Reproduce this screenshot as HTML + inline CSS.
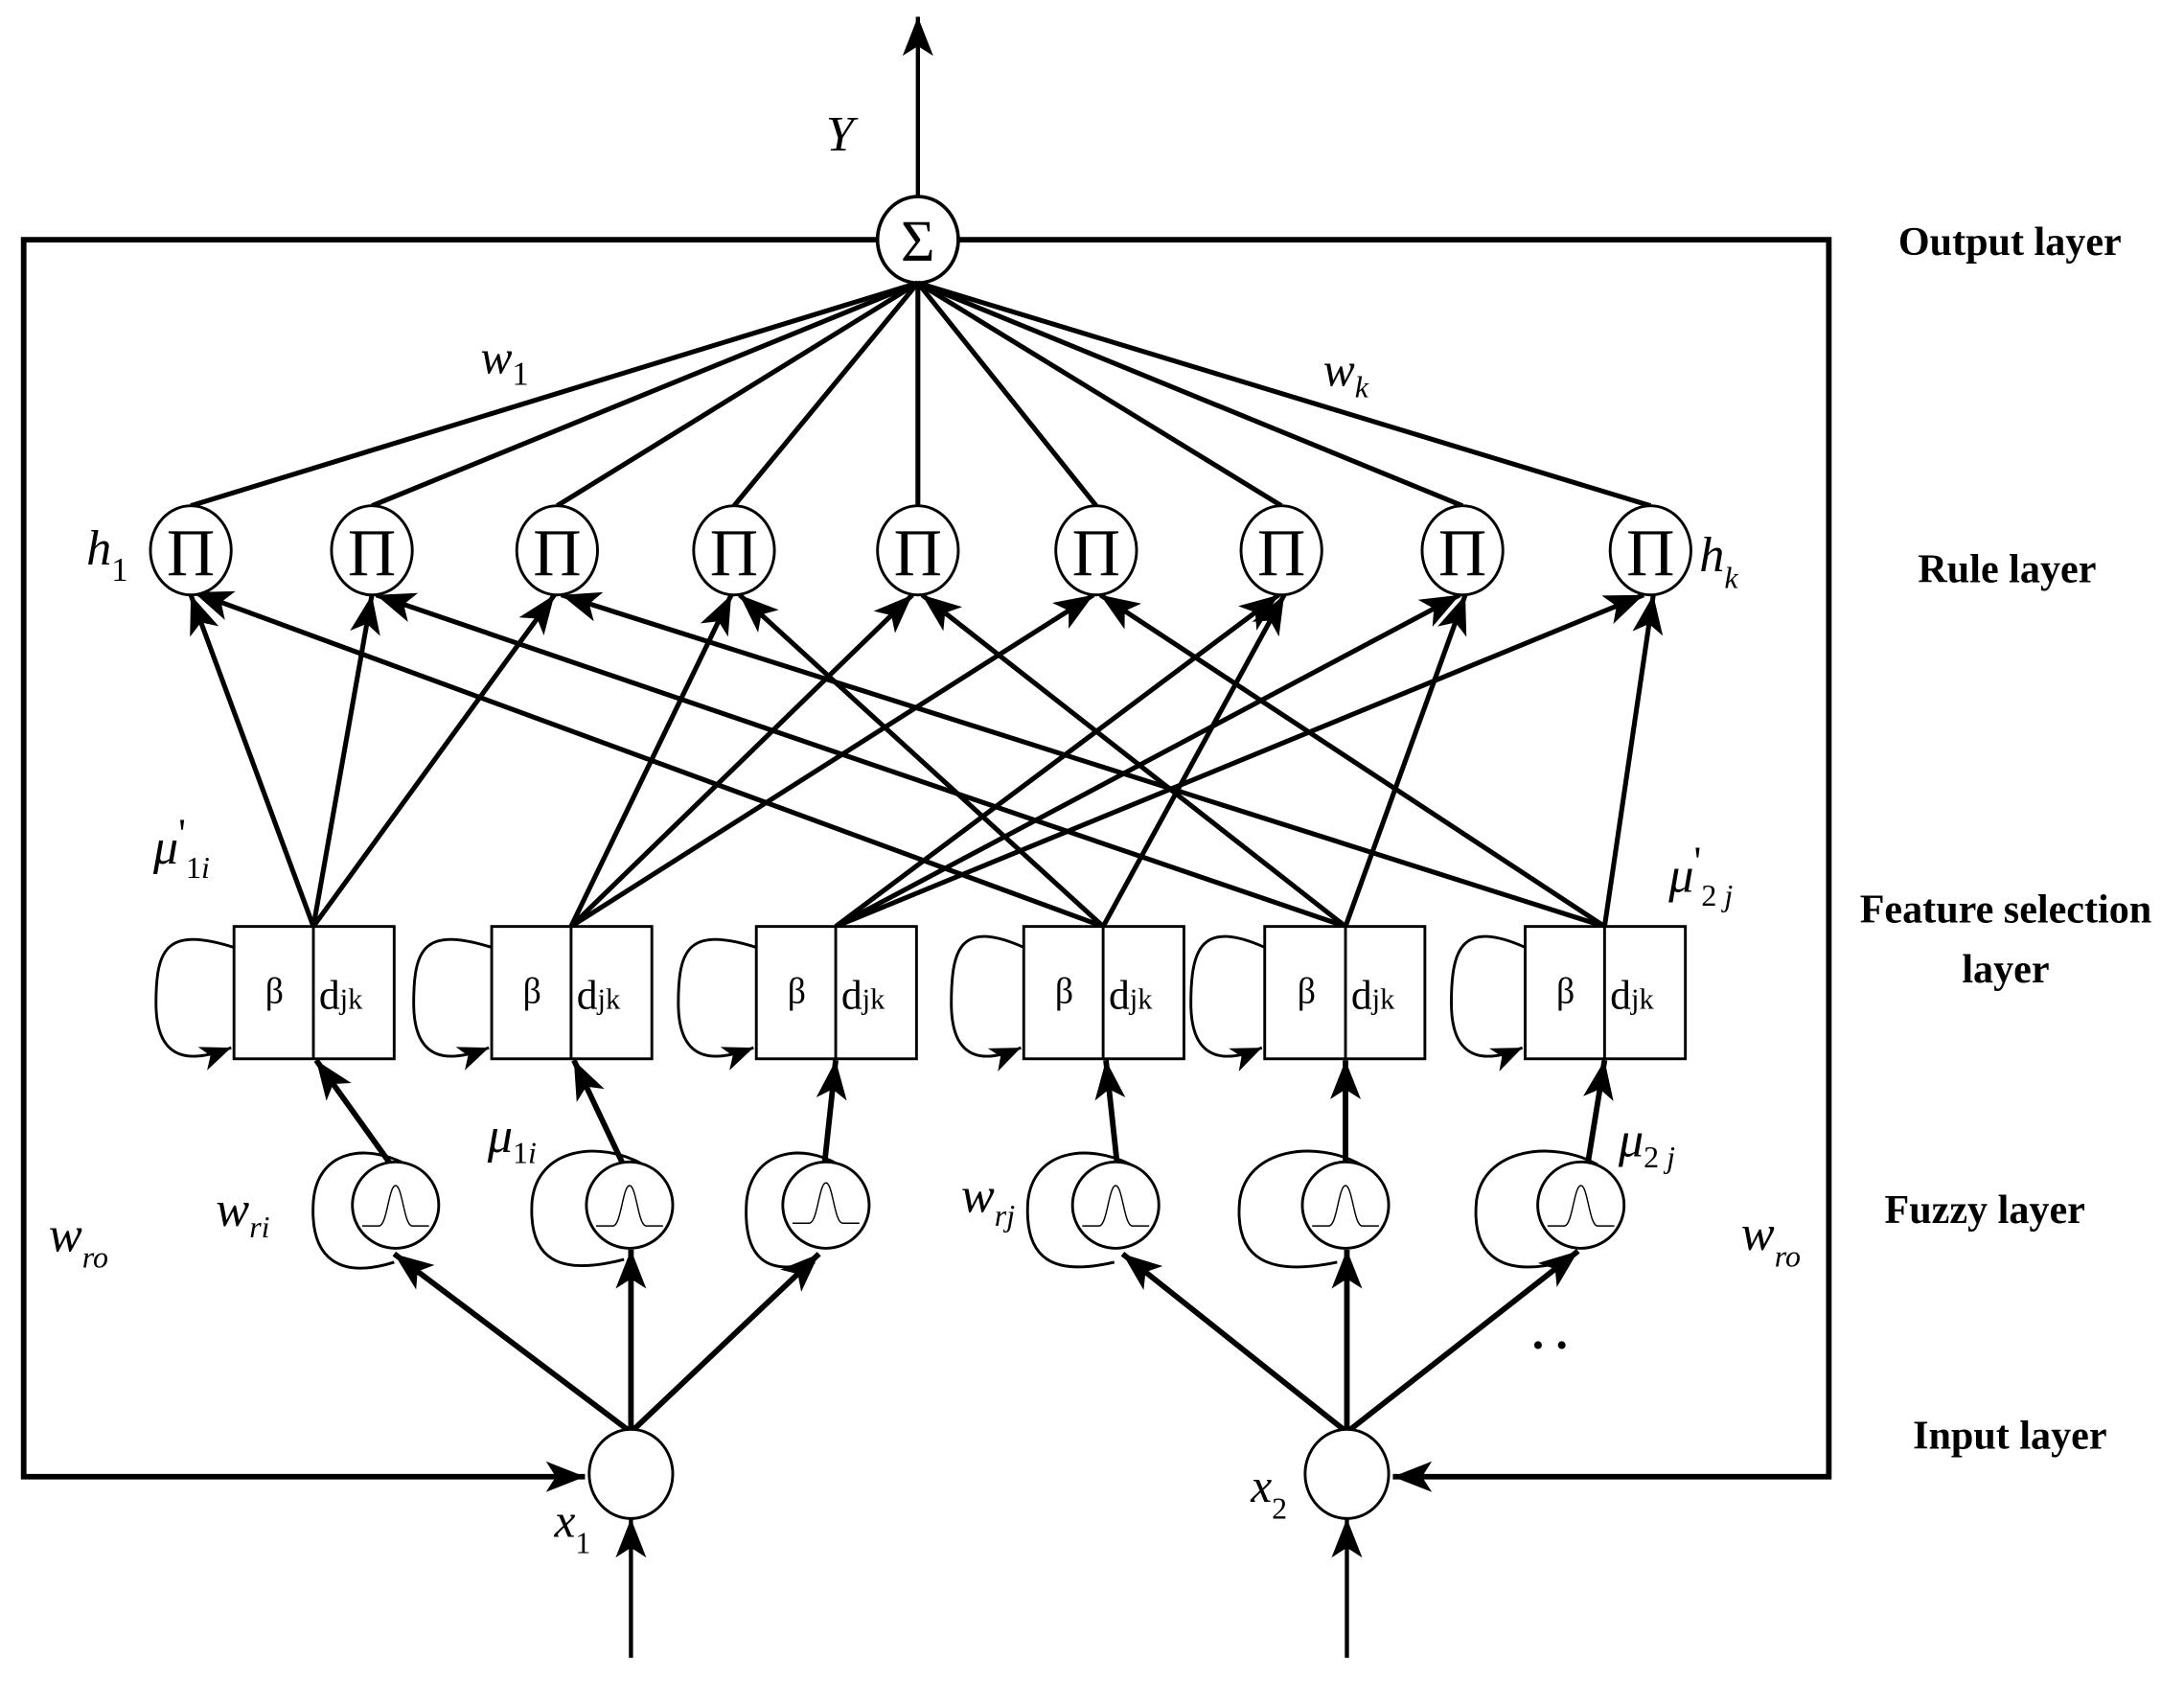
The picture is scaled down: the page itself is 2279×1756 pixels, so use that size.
<!DOCTYPE html>
<html><head><meta charset="utf-8"><style>
html,body{margin:0;padding:0;background:#fff}
svg{display:block}
.t{font-family:"Liberation Serif",serif;font-style:italic;fill:#000}
.r{font-family:"Liberation Serif",serif;fill:#000}
.b{font-family:"Liberation Serif",serif;font-weight:bold;fill:#000;font-size:29px;text-anchor:middle}
</style></head><body>
<svg width="2279" height="1756" viewBox="0 0 1568 1208" xmlns="http://www.w3.org/2000/svg">
<defs>
<marker id="a" markerUnits="userSpaceOnUse" markerWidth="40" markerHeight="30" viewBox="-30 -15 32 30" refX="0" refY="0" orient="auto">
<path d="M0,0 L-28,-11 L-21,0 L-28,11 z" fill="#000"/>
</marker>
<marker id="s" markerUnits="userSpaceOnUse" markerWidth="30" markerHeight="24" viewBox="-24 -12 26 24" refX="0" refY="0" orient="auto">
<path d="M0,0 L-22,-9 L-16,0 L-22,9 z" fill="#000"/>
</marker>
<g id="g"><path d="M-24,12 L-12,12 C-6,12 -5,-17 0,-17 C5,-17 6,12 12,12 L24,12" fill="none" stroke="#000" stroke-width="1"/></g>
</defs>
<g stroke="#000" fill="none">
<line x1="659" y1="142" x2="659" y2="12" stroke-width="3" marker-end="url(#a)"/>
<ellipse cx="659" cy="172" rx="29" ry="31" stroke-width="2.5" fill="#fff"/>
<polyline points="629,172 17,172 17,1060 420,1060" stroke-width="4" marker-end="url(#a)"/>
<polyline points="689,172 1313,172 1313,1060 1000,1060" stroke-width="4" marker-end="url(#a)"/>
<g stroke-width="3.5">
<line x1="659" y1="203" x2="137" y2="363"/>
<line x1="659" y1="203" x2="267" y2="363"/>
<line x1="659" y1="203" x2="400" y2="363"/>
<line x1="659" y1="203" x2="527" y2="363"/>
<line x1="659" y1="203" x2="659" y2="363"/>
<line x1="659" y1="203" x2="787" y2="363"/>
<line x1="659" y1="203" x2="920" y2="363"/>
<line x1="659" y1="203" x2="1050" y2="363"/>
<line x1="659" y1="203" x2="1185" y2="363"/>
</g>
<g stroke-width="3.5" marker-end="url(#a)">
<line x1="225" y1="665" x2="137" y2="427"/>
<line x1="225" y1="665" x2="267" y2="427"/>
<line x1="225" y1="665" x2="398" y2="427"/>
<line x1="410" y1="665" x2="525" y2="427"/>
<line x1="410" y1="665" x2="655" y2="427"/>
<line x1="410" y1="665" x2="785" y2="427"/>
<line x1="600" y1="665" x2="918" y2="427"/>
<line x1="600" y1="665" x2="1048" y2="427"/>
<line x1="600" y1="665" x2="1180" y2="427"/>
<line x1="792" y1="665" x2="139" y2="425"/>
<line x1="792" y1="665" x2="531" y2="427"/>
<line x1="792" y1="665" x2="922" y2="427"/>
<line x1="966" y1="665" x2="270" y2="427"/>
<line x1="966" y1="665" x2="662" y2="427"/>
<line x1="966" y1="665" x2="1052" y2="427"/>
<line x1="1152" y1="665" x2="403" y2="427"/>
<line x1="1152" y1="665" x2="790" y2="427"/>
<line x1="1152" y1="665" x2="1187" y2="427"/>
</g>
<g stroke-width="2" fill="#fff">
<ellipse cx="137" cy="395" rx="29" ry="32"/>
<ellipse cx="267" cy="395" rx="29" ry="32"/>
<ellipse cx="400" cy="395" rx="29" ry="32"/>
<ellipse cx="527" cy="395" rx="29" ry="32"/>
<ellipse cx="659" cy="395" rx="29" ry="32"/>
<ellipse cx="787" cy="395" rx="29" ry="32"/>
<ellipse cx="920" cy="395" rx="29" ry="32"/>
<ellipse cx="1050" cy="395" rx="29" ry="32"/>
<ellipse cx="1185" cy="395" rx="29" ry="32"/>
</g>
<g stroke-width="2" fill="#fff">
<rect x="168" y="665" width="115" height="95"/><line x1="225" y1="665" x2="225" y2="760"/>
<rect x="353" y="665" width="115" height="95"/><line x1="410" y1="665" x2="410" y2="760"/>
<rect x="543" y="665" width="115" height="95"/><line x1="600" y1="665" x2="600" y2="760"/>
<rect x="735" y="665" width="115" height="95"/><line x1="792" y1="665" x2="792" y2="760"/>
<rect x="908" y="665" width="115" height="95"/><line x1="966" y1="665" x2="966" y2="760"/>
<rect x="1095" y="665" width="115" height="95"/><line x1="1152" y1="665" x2="1152" y2="760"/>
</g>
<g stroke-width="2" marker-end="url(#s)">
<path d="M168,680 C120,665 112,680 112,720 C112,765 140,762 166,752"/>
<path d="M353,680 C305,665 297,680 297,720 C297,765 325,762 351,752"/>
<path d="M543,680 C495,665 487,680 487,720 C487,765 515,762 541,752"/>
<path d="M735,680 C690,660 683,680 683,720 C683,765 710,762 733,752"/>
<path d="M908,680 C863,660 855,680 855,720 C855,765 883,762 906,752"/>
<path d="M1095,680 C1050,660 1042,680 1042,720 C1042,765 1070,762 1093,752"/>
</g>
<g stroke-width="4" marker-end="url(#a)">
<line x1="280" y1="835" x2="227" y2="761"/>
<line x1="447" y1="835" x2="412" y2="761"/>
<line x1="592" y1="835" x2="600" y2="761"/>
<line x1="802" y1="835" x2="794" y2="761"/>
<line x1="966" y1="835" x2="966" y2="761"/>
<line x1="1140" y1="835" x2="1152" y2="761"/>
</g>
<g stroke-width="2">
<path d="M292,836 C262,820 228,826 225,862 C222,905 245,918 283,906"/>
<path d="M462,836 C430,818 386,824 382,862 C379,905 402,916 448,904"/>
<path d="M602,836 C575,820 540,826 536,862 C533,905 552,916 585,906"/>
<path d="M812,836 C780,820 742,826 738,862 C735,905 757,916 800,906"/>
<path d="M977,836 C945,818 895,824 890,862 C886,905 912,916 960,906"/>
<path d="M1147,836 C1115,818 1065,824 1060,862 C1056,905 1082,916 1122,906"/>
</g>
<g stroke-width="4" marker-end="url(#a)">
<line x1="453" y1="1028" x2="283" y2="900"/>
<line x1="453" y1="1028" x2="453" y2="897"/>
<line x1="453" y1="1028" x2="588" y2="900"/>
<line x1="967" y1="1028" x2="806" y2="900"/>
<line x1="967" y1="1028" x2="967" y2="897"/>
<line x1="967" y1="1028" x2="1133" y2="898"/>
</g>
<g stroke-width="2" fill="#fff">
<circle cx="284" cy="865" r="31"/>
<circle cx="452" cy="865" r="31"/>
<circle cx="593" cy="865" r="31"/>
<circle cx="801" cy="865" r="31"/>
<circle cx="966" cy="865" r="31"/>
<circle cx="1135" cy="865" r="31"/>
</g>
<use href="#g" x="284" y="868"/><use href="#g" x="452" y="868"/><use href="#g" x="593" y="866"/>
<use href="#g" x="801" y="868"/><use href="#g" x="966" y="868"/><use href="#g" x="1135" y="868"/>
<line x1="453" y1="1190" x2="453" y2="1090" stroke-width="3" marker-end="url(#a)"/>
<line x1="967" y1="1190" x2="967" y2="1090" stroke-width="3" marker-end="url(#a)"/>
<ellipse cx="453" cy="1058" rx="30" ry="32" stroke-width="2" fill="#fff"/>
<ellipse cx="967" cy="1058" rx="30" ry="32" stroke-width="2" fill="#fff"/>
</g>
<text class="r" x="659" y="187" font-size="42" text-anchor="middle">Σ</text>
<g class="r" font-size="48" text-anchor="middle">
<text x="137" y="413">Π</text><text x="267" y="413">Π</text><text x="400" y="413">Π</text>
<text x="527" y="413">Π</text><text x="659" y="413">Π</text><text x="787" y="413">Π</text>
<text x="920" y="413">Π</text><text x="1050" y="413">Π</text><text x="1185" y="413">Π</text>
</g>
<g class="r" font-size="26" text-anchor="middle">
<text x="197" y="720">β</text><text x="382" y="720">β</text><text x="572" y="720">β</text>
<text x="764" y="720">β</text><text x="938" y="720">β</text><text x="1124" y="720">β</text>
</g>
<g class="r" font-size="30">
<text x="229" y="724">d<tspan font-size="21">jk</tspan></text>
<text x="414" y="724">d<tspan font-size="21">jk</tspan></text>
<text x="604" y="724">d<tspan font-size="21">jk</tspan></text>
<text x="796" y="724">d<tspan font-size="21">jk</tspan></text>
<text x="970" y="724">d<tspan font-size="21">jk</tspan></text>
<text x="1156" y="724">d<tspan font-size="21">jk</tspan></text>
</g>
<text class="t" x="593" y="108" font-size="36">Y</text>
<text class="t" x="345" y="268" font-size="34">w<tspan class="r" font-style="normal" font-size="24" dy="8">1</tspan></text>
<text class="t" x="950" y="277" font-size="34">w<tspan font-size="22" dy="8">k</tspan></text>
<text class="t" x="62" y="405" font-size="36">h<tspan class="r" font-style="normal" font-size="24" dy="12">1</tspan></text>
<text class="t" x="1220" y="410" font-size="36">h<tspan font-size="22" dy="12">k</tspan></text>
<text class="t" x="110" y="620" font-size="36">μ<tspan font-style="normal" font-size="30" dy="-12">'</tspan><tspan font-style="normal" font-size="22" dy="22">1</tspan><tspan font-size="22">i</tspan></text>
<text class="t" x="1198" y="640" font-size="36">μ<tspan font-style="normal" font-size="30" dy="-12">'</tspan><tspan font-style="normal" font-size="22" dy="22">2 </tspan><tspan font-size="22">j</tspan></text>
<text class="t" x="350" y="827" font-size="36">μ<tspan font-style="normal" font-size="22" dy="8">1</tspan><tspan font-size="22">i</tspan></text>
<text class="t" x="1162" y="830" font-size="36">μ<tspan font-style="normal" font-size="22" dy="8">2 </tspan><tspan font-size="22">j</tspan></text>
<text class="t" x="155" y="880" font-size="36">w<tspan font-size="22" dy="8">ri</tspan></text>
<text class="t" x="690" y="870" font-size="36">w<tspan font-size="22" dy="10">rj</tspan></text>
<text class="t" x="35" y="898" font-size="36">w<tspan font-size="22" dy="12">ro</tspan></text>
<text class="t" x="1250" y="897" font-size="36">w<tspan font-size="22" dy="12">ro</tspan></text>
<text class="r" x="1100" y="968" font-size="34" font-weight="bold">. .</text>
<text class="t" x="398" y="1103" font-size="34">x<tspan class="r" font-style="normal" font-size="22" dy="12">1</tspan></text>
<text class="t" x="898" y="1078" font-size="34">x<tspan class="r" font-style="normal" font-size="22" dy="12">2</tspan></text>
<text class="b" x="1443" y="183">Output layer</text>
<text class="b" x="1441" y="418">Rule layer</text>
<text class="b" x="1440" y="662">Feature selection</text>
<text class="b" x="1440" y="705">layer</text>
<text class="b" x="1425" y="878">Fuzzy layer</text>
<text class="b" x="1443" y="1040">Input layer</text>
</svg>
</body></html>
